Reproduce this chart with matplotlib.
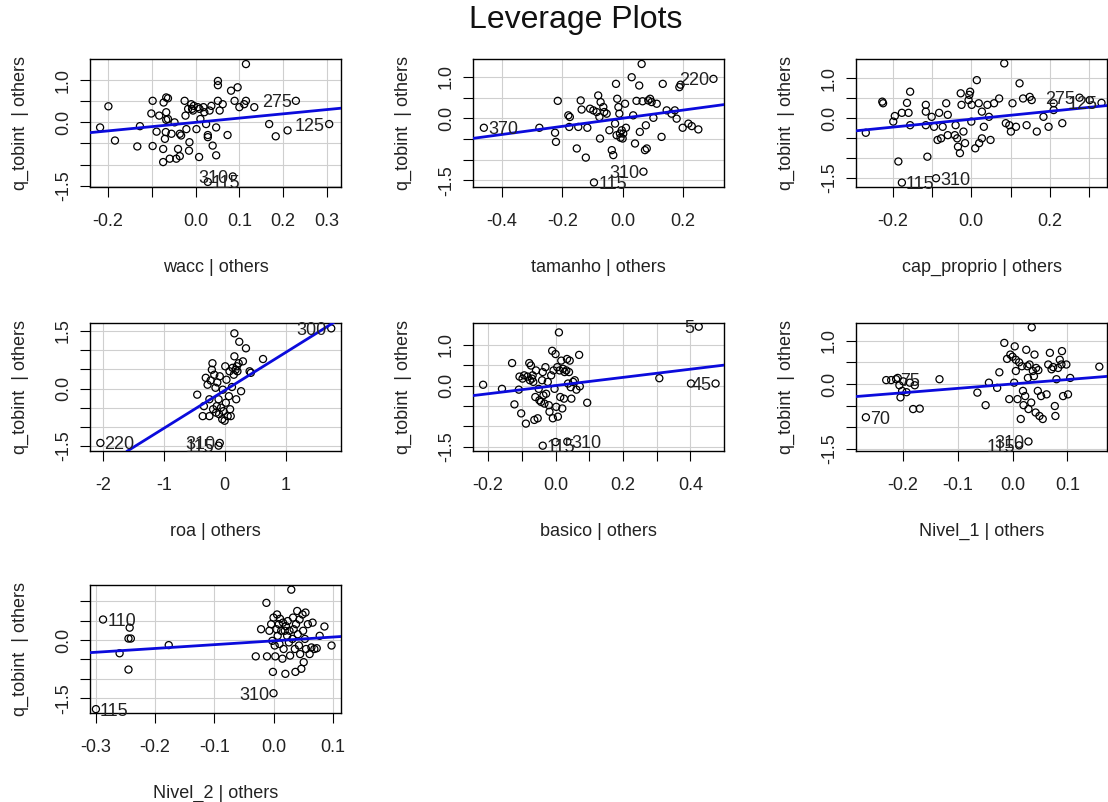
import matplotlib
matplotlib.use("Agg")
import matplotlib.pyplot as plt

plt.rcParams['font.family'] = ['Liberation Sans', 'DejaVu Sans']

# ---------------------------------------------------------------- data
response_label = "q_tobint  | others"
predictors = ["wacc", "tamanho", "cap_proprio", "roa", "basico", "Nivel_1", "Nivel_2"]

# partial-regression residuals (predictor | others, response | others)
wacc_pts = [(-0.218, -0.12), (-0.199, 0.38), (-0.184, -0.43), (-0.133, -0.57), (-0.127, -0.09),
            (-0.098, 0.51), (-0.101, 0.21), (-0.098, -0.56), (-0.089, -0.22), (-0.083, 0.16),
            (-0.074, -0.94), (-0.074, -0.63), (-0.073, 0.47), (-0.070, -0.39), (-0.068, -0.23),
            (-0.067, 0.59), (-0.063, 0.57), (-0.067, 0.24), (-0.067, 0.06), (-0.063, 0.08),
            (-0.059, -0.86), (-0.055, -0.27), (-0.048, 0.00), (-0.044, -0.86), (-0.040, -0.63),
            (-0.036, -0.80), (-0.036, -0.27), (-0.033, -0.31), (-0.025, 0.51), (-0.023, 0.16),
            (-0.021, -0.16), (-0.017, 0.32), (-0.015, -0.67), (-0.014, -0.47), (-0.010, 0.43),
            (-0.008, 0.32), (-0.006, 0.28), (-0.004, 0.39), (0.002, -0.16), (0.005, 0.36),
            (0.008, -0.82), (0.009, 0.32), (0.011, 0.08), (0.018, 0.36), (0.020, 0.24),
            (0.024, -0.04), (0.028, -0.30), (0.028, -0.35), (0.032, 0.28), (0.036, 0.39),
            (0.039, -0.55), (0.047, -0.12), (0.047, -0.78), (0.051, 0.51), (0.051, 0.98),
            (0.051, 0.88), (0.055, 0.28), (0.062, 0.43), (0.073, -0.30), (0.081, 0.75),
            (0.089, 0.51), (0.096, 0.83), (0.100, 0.36), (0.111, 0.43), (0.115, 0.51),
            (0.115, 1.38), (0.134, 0.36), (0.168, -0.04), (0.183, -0.33), (0.210, -0.19)]
wacc_ids = [("275", 0.229, 0.51), ("125", 0.305, -0.04), ("310", 0.085, -1.28), ("115", 0.028, -1.41)]

tamanho_pts = [(-0.276, -0.23), (-0.224, -0.35), (-0.221, -0.57), (-0.215, 0.42), (-0.180, 0.07),
               (-0.175, 0.03), (-0.177, -0.21), (-0.152, -0.73), (-0.147, -0.21), (-0.139, 0.43),
               (-0.136, 0.21), (-0.122, -0.95), (-0.117, -0.23), (-0.108, 0.23), (-0.097, 0.19),
               (-0.086, 0.15), (-0.081, 0.55), (-0.077, 0.03), (-0.075, -0.49), (-0.073, 0.39),
               (-0.064, 0.27), (-0.061, 0.15), (-0.053, 0.11), (-0.044, -0.29), (-0.036, -0.77),
               (-0.031, -0.89), (-0.025, -0.13), (-0.022, 0.83), (-0.020, -0.41), (-0.018, 0.47),
               (-0.014, 0.27), (-0.011, 0.11), (-0.009, -0.37), (-0.007, -0.47), (-0.003, -0.29),
               (0.000, -0.49), (0.002, -0.37), (0.008, 0.35), (0.011, -0.23), (0.030, 0.99),
               (0.035, 0.07), (0.041, -0.61), (0.046, 0.42), (0.055, 0.79), (0.057, -0.33),
               (0.063, 1.31), (0.066, 0.41), (0.074, -0.77), (0.077, -0.17), (0.080, -0.73),
               (0.085, 0.43), (0.091, 0.47), (0.096, 0.39), (0.102, 0.01), (0.113, 0.35),
               (0.129, -0.45), (0.133, 0.83), (0.146, 0.19), (0.162, 0.11), (0.173, 0.19),
               (0.179, -0.01), (0.188, 0.75), (0.192, 0.81), (0.199, -0.23), (0.218, -0.13),
               (0.229, -0.19), (0.251, -0.27)]
tamanho_ids = [("370", -0.460, -0.23), ("220", 0.301, 0.95), ("310", 0.069, -1.29), ("115", -0.095, -1.55)]

cap_proprio_pts = [(-0.269, -0.37), (-0.227, 0.41), (-0.225, 0.37), (-0.199, -0.09), (-0.195, 0.05),
                   (-0.186, -1.09), (-0.177, 0.13), (-0.164, 0.38), (-0.160, 0.13), (-0.156, 0.66),
                   (-0.156, -0.18), (-0.116, 0.33), (-0.116, 0.16), (-0.116, -0.18), (-0.112, -0.97),
                   (-0.101, 0.03), (-0.095, -0.22), (-0.086, -0.55), (-0.082, 0.13), (-0.077, -0.51),
                   (-0.073, -0.22), (-0.064, 0.37), (-0.060, 0.08), (-0.060, -0.43), (-0.042, -0.43),
                   (-0.040, -0.18), (-0.036, -0.51), (-0.034, -0.72), (-0.029, -0.88), (-0.027, 0.62),
                   (-0.025, 0.33), (-0.020, -0.34), (-0.016, -0.63), (-0.007, 0.45), (-0.005, 0.58),
                   (-0.003, 0.66), (0.000, -0.09), (0.001, 0.33), (0.010, -0.76), (0.014, 0.95),
                   (0.019, 0.37), (0.020, -0.63), (0.027, -0.51), (0.027, 0.16), (0.032, -0.22),
                   (0.041, 0.33), (0.045, 0.03), (0.049, -0.55), (0.058, 0.37), (0.071, 0.49),
                   (0.084, 1.37), (0.088, -0.13), (0.097, -0.18), (0.101, -0.34), (0.105, 0.37),
                   (0.114, -0.22), (0.123, 0.87), (0.132, 0.49), (0.141, -0.18), (0.149, 0.53),
                   (0.154, 0.45), (0.167, -0.34), (0.184, 0.03), (0.197, -0.22), (0.210, 0.37),
                   (0.210, 0.20), (0.232, -0.13), (0.302, 0.45)]
cap_proprio_ids = [("275", 0.276, 0.51), ("125", 0.332, 0.38), ("310", -0.090, -1.51), ("115", -0.177, -1.62)]

roa_pts = [(-0.45, -0.16), (-0.36, -0.72), (-0.34, -0.46), (-0.31, 0.28), (-0.28, 0.10),
           (-0.25, -0.72), (-0.25, -0.28), (-0.23, 0.21), (-0.21, 0.49), (-0.20, 0.66),
           (-0.19, -0.54), (-0.17, 0.36), (-0.15, 0.02), (-0.14, -0.63), (-0.13, -0.46),
           (-0.12, 0.16), (-0.10, -0.28), (-0.09, -0.67), (-0.08, 0.32), (-0.06, -0.50),
           (-0.04, -0.80), (-0.03, -0.03), (-0.02, -0.59), (0.00, -0.84), (0.01, 0.58),
           (0.02, -0.37), (0.03, 0.23), (0.05, -0.72), (0.07, -0.20), (0.08, 0.45),
           (0.09, -0.54), (0.10, -0.72), (0.12, 0.04), (0.13, 0.54), (0.15, 0.36),
           (0.16, 0.84), (0.16, 1.44), (0.18, 0.49), (0.19, -0.28), (0.20, 0.58),
           (0.21, 0.45), (0.23, 0.66), (0.24, 1.22), (0.27, -0.07), (0.30, 0.71),
           (0.35, 1.05), (0.41, 0.45), (0.43, 0.41), (0.63, 0.77)]
roa_ids = [("220", -2.04, -1.42), ("300", 1.75, 1.57), ("310", -0.08, -1.42), ("115", -0.10, -1.49)]

basico_pts = [(-0.215, 0.02), (-0.159, -0.08), (-0.129, 0.55), (-0.122, -0.46), (-0.109, -0.10),
              (-0.107, 0.22), (-0.102, -0.68), (-0.098, 0.17), (-0.093, 0.25), (-0.088, -0.93),
              (-0.083, 0.22), (-0.078, 0.55), (-0.076, 0.13), (-0.073, 0.49), (-0.070, 0.17),
              (-0.068, 0.25), (-0.066, 0.09), (-0.063, -0.84), (-0.060, -0.28), (-0.058, 0.37),
              (-0.053, -0.80), (-0.050, -0.08), (-0.048, -0.36), (-0.043, -0.40), (-0.040, 0.13),
              (-0.038, 0.33), (-0.036, -0.24), (-0.033, -0.44), (-0.030, 0.45), (-0.028, -0.20),
              (-0.023, 0.09), (-0.020, -0.48), (-0.018, -0.64), (-0.013, 0.25), (-0.010, 0.85),
              (-0.008, -0.80), (-0.006, 0.37), (-0.003, -0.08), (0.000, 0.77), (0.002, -0.52),
              (0.005, 0.45), (0.007, -0.76), (0.010, 1.30), (0.012, 0.37), (0.014, -0.28),
              (0.017, 0.61), (0.020, -0.56), (0.022, 0.41), (0.025, -0.32), (0.027, 0.33),
              (0.032, 0.37), (0.034, 0.65), (0.037, 0.05), (0.040, 0.33), (0.042, 0.61),
              (0.045, -0.04), (0.047, -0.32), (0.052, 0.09), (0.057, 0.13), (0.062, -0.10),
              (0.070, 0.75), (0.072, -0.02), (0.094, -0.42), (0.308, 0.18), (0.402, 0.05),
              (0.000, -1.38)]
basico_ids = [("5", 0.425, 1.44), ("45", 0.475, 0.05), ("310", 0.035, -1.37), ("115", -0.038, -1.47)]

nivel1_pts = [(-0.230, 0.09), (-0.221, 0.09), (-0.209, 0.14), (-0.206, -0.03), (-0.204, -0.31),
              (-0.201, -0.16), (-0.199, 0.06), (-0.193, -0.19), (-0.187, 0.03), (-0.178, -0.03),
              (-0.181, -0.58), (-0.169, -0.57), (-0.133, 0.11), (-0.064, -0.20), (-0.049, -0.49),
              (-0.043, 0.03), (-0.028, -0.09), (-0.024, 0.27), (-0.015, 0.95), (-0.010, 0.58),
              (-0.006, -0.35), (-0.004, 0.68), (0.000, 0.63), (0.003, 0.03), (0.004, 0.87),
              (0.006, 0.30), (0.006, 0.56), (0.009, -0.35), (0.012, 0.50), (0.015, -0.81),
              (0.017, 0.41), (0.019, -0.16), (0.020, -0.49), (0.023, -0.28), (0.025, 0.79),
              (0.027, 0.41), (0.028, 0.14), (0.029, -0.58), (0.031, 0.45), (0.034, -0.43),
              (0.035, 1.31), (0.037, 0.30), (0.039, 0.18), (0.040, 0.68), (0.042, -0.66),
              (0.043, 0.37), (0.046, -0.16), (0.047, 0.32), (0.049, -0.74), (0.052, -0.28),
              (0.055, -0.81), (0.062, -0.24), (0.065, 0.45), (0.068, 0.72), (0.071, 0.34),
              (0.074, 0.39), (0.077, -0.51), (0.078, -0.74), (0.080, 0.11), (0.083, 0.37),
              (0.086, 0.56), (0.089, 0.45), (0.090, 0.76), (0.092, -0.28), (0.098, 0.45),
              (0.101, -0.24), (0.105, 0.14), (0.158, 0.40)]
nivel1_ids = [("70", -0.267, -0.77), ("75", -0.212, 0.11), ("310", 0.029, -1.33), ("115", 0.012, -1.42)]

nivel2_pts = [(-0.260, -0.34), (-0.245, 0.04), (-0.241, 0.04), (-0.243, 0.32), (-0.245, -0.76),
              (-0.177, -0.13), (-0.030, -0.42), (-0.021, 0.28), (-0.012, 0.96), (-0.011, -0.42),
              (-0.007, 0.24), (-0.004, 0.41), (-0.002, -0.02), (-0.001, -0.82), (0.000, 0.58),
              (0.002, -0.14), (0.003, -0.42), (0.005, 0.28), (0.006, 0.66), (0.007, 0.11),
              (0.009, 0.41), (0.010, -0.10), (0.011, 0.55), (0.013, 0.24), (0.015, -0.48),
              (0.016, 0.45), (0.017, -0.23), (0.019, 0.24), (0.020, -0.87), (0.021, 0.36),
              (0.023, 0.11), (0.024, 0.49), (0.026, -0.06), (0.027, 0.24), (0.028, -0.40),
              (0.030, 1.30), (0.032, 0.03), (0.033, 0.58), (0.034, 0.28), (0.036, -0.23),
              (0.037, -0.82), (0.038, 0.41), (0.040, 0.75), (0.041, 0.15), (0.043, -0.14),
              (0.044, 0.53), (0.045, -0.36), (0.047, -0.74), (0.049, 0.66), (0.050, 0.24),
              (0.051, -0.57), (0.053, 0.03), (0.054, 0.71), (0.055, -0.23), (0.058, 0.41),
              (0.061, -0.36), (0.064, -0.19), (0.066, 0.45), (0.069, -0.23), (0.073, -0.21),
              (0.078, 0.11), (0.086, 0.35), (0.098, -0.14)]
nivel2_ids = [("110", -0.288, 0.53), ("115", -0.300, -1.78), ("310", 0.000, -1.37)]

# fitted partial coefficients (line slope / intercept in each panel)
slopes = [1.01, 0.98, 0.99, 0.99, 1.00, 1.02, 0.98]
intercepts = [0.0, 0.0, -0.03, -0.05, 0.0, 0.0, -0.02]

# axis ranges
xlims = [(-0.241, 0.332), (-0.496, 0.336), (-0.294, 0.346), (-2.21, 1.91),
         (-0.245, 0.50), (-0.285, 0.172), (-0.31, 0.114)]
ylims = [(-1.53, 1.50), (-1.66, 1.43), (-1.73, 1.48), (-1.63, 1.71),
         (-1.60, 1.53), (-1.55, 1.41), (-1.88, 1.42)]

# ticks and their labels (blank where the label is suppressed)
xticks = [[-0.2, -0.1, 0.0, 0.1, 0.2, 0.3],
          [-0.4, -0.2, 0.0, 0.2],
          [-0.2, -0.1, 0.0, 0.1, 0.2, 0.3],
          [-2, -1, 0, 1],
          [-0.2, -0.1, 0.0, 0.1, 0.2, 0.3, 0.4],
          [-0.2, -0.1, 0.0, 0.1],
          [-0.3, -0.2, -0.1, 0.0, 0.1]]
xticklabels = [["-0.2", "", "0.0", "0.1", "0.2", "0.3"],
               ["-0.4", "-0.2", "0.0", "0.2"],
               ["-0.2", "", "0.0", "", "0.2", ""],
               ["-2", "-1", "0", "1"],
               ["-0.2", "", "0.0", "", "0.2", "", "0.4"],
               ["-0.2", "-0.1", "0.0", "0.1"],
               ["-0.3", "-0.2", "-0.1", "0.0", "0.1"]]
yticks_std = [-1.5, -1.0, -0.5, 0.0, 0.5, 1.0]
yticklabels_std = ["-1.5", "", "", "0.0", "", "1.0"]
yticks = [yticks_std, yticks_std, yticks_std,
          [-1.5, -1.0, -0.5, 0.0, 0.5, 1.0, 1.5],
          yticks_std, yticks_std, yticks_std]
yticklabels = [yticklabels_std, yticklabels_std, yticklabels_std,
               ["-1.5", "", "", "0.0", "", "", "1.5"],
               yticklabels_std, yticklabels_std,
               ["-1.5", "", "", "0.0", "", ""]]

points = [wacc_pts, tamanho_pts, cap_proprio_pts, roa_pts, basico_pts, nivel1_pts, nivel2_pts]
ids = [wacc_ids, tamanho_ids, cap_proprio_ids, roa_ids, basico_ids, nivel1_ids, nivel2_ids]

# ---------------------------------------------------------------- layout
W, H = 1108, 802
fig = plt.figure(figsize=(W / 100, H / 100), dpi=100)
col_left = [90, 473, 856]
row_top = [59, 323, 585]
box_w, box_h = 251, 128

FS = 13
LINE_BLUE = "#0b0bdc"
GRID_C = "#cfcfcf"

for i, name in enumerate(predictors):
    r, c = divmod(i, 3)
    left = col_left[c] / W
    bottom = 1 - (row_top[r] + box_h) / H
    ax = fig.add_axes([left, bottom, box_w / W, box_h / H])

    ax.set_xlim(*xlims[i])
    ax.set_ylim(*ylims[i])
    ax.set_xticks(xticks[i])
    ax.set_xticklabels(xticklabels[i])
    ax.set_yticks(yticks[i])
    ax.set_yticklabels(yticklabels[i], rotation=90, va="center")

    ax.grid(True, color=GRID_C, linewidth=0.8, linestyle="-")
    ax.set_axisbelow(True)

    xs = [p[0] for p in points[i]] + [p[1] for p in ids[i]]
    ys = [p[1] for p in points[i]] + [p[2] for p in ids[i]]
    ax.scatter(xs, ys, s=26, facecolors="none", edgecolors="black",
               linewidths=0.9, zorder=3)

    ax.axline((0, intercepts[i]), slope=slopes[i], color=LINE_BLUE,
              linewidth=2.0, zorder=4)

    xmid = sum(xlims[i]) / 2
    for lab, px, py in ids[i]:
        right_side = px > xmid
        ax.annotate(lab, (px, py), xytext=(-3 if right_side else 3, 0),
                    textcoords="offset points",
                    ha="right" if right_side else "left",
                    va="center_baseline", fontsize=FS, color="#222222",
                    zorder=5, annotation_clip=False)

    for sp in ax.spines.values():
        sp.set_linewidth(1.0)
        sp.set_color("black")
    ax.tick_params(axis="both", direction="out", length=7, width=0.8,
                   labelsize=FS, labelcolor="#222222")
    ax.tick_params(axis="x", pad=12)
    ax.tick_params(axis="y", pad=6)

    ax.set_xlabel(f"{name} | others", fontsize=FS, color="#222222", va="center")
    ax.xaxis.set_label_coords(0.5, -80 / box_h)
    ax.set_ylabel(response_label, fontsize=FS, color="#222222", va="center")
    ax.yaxis.set_label_coords(-70 / box_w, 0.5)

fig.text(576 / W, 1 - 20 / H, "Leverage Plots", fontsize=23,
         ha="center", va="center", color="#111111")

fig.savefig("out.png", dpi=100, facecolor="white")
